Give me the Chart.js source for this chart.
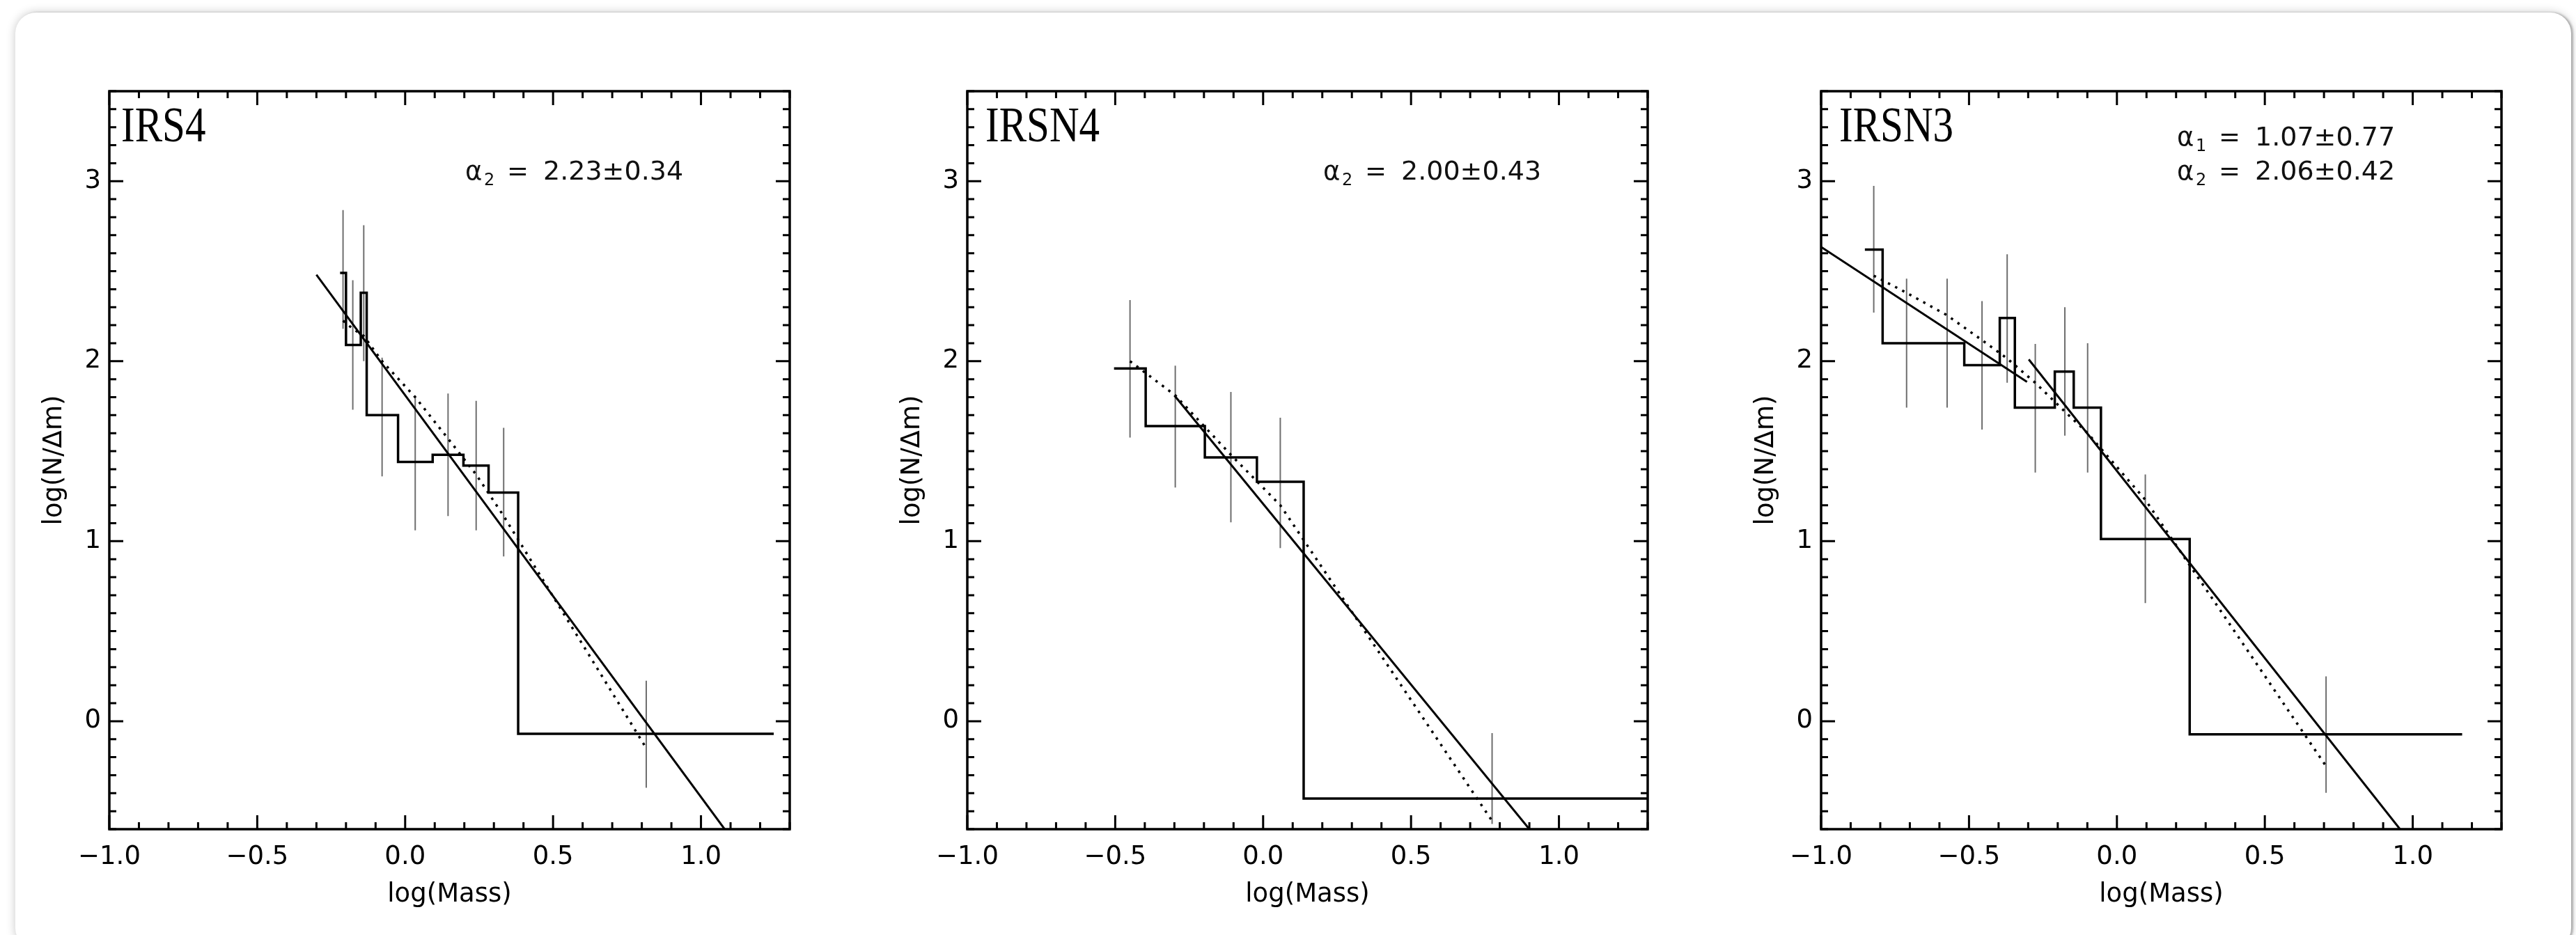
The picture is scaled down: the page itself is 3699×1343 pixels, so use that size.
<!DOCTYPE html>
<html>
<head>
<meta charset="utf-8">
<title>Mass functions IRS4 / IRSN4 / IRSN3</title>
<script src="https://cdn.jsdelivr.net/npm/chart.js@4.4.1/dist/chart.umd.min.js"></script>
<style>
html, body { margin: 0; padding: 0; background: #fff; width: 3699px; height: 1343px; overflow: hidden; }
#card { position: absolute; left: 22px; top: 18px; width: 3670px; height: 1345px; background: #fff;
        border-radius: 30px; box-shadow: 0 0 14px rgba(0,0,0,0.22), 3px 0 3px rgba(0,0,0,0.25); }
canvas { position: absolute; top: 0; }
</style>
</head>
<body>
<div id="card"></div>
<canvas id="p1" width="1174" height="1343" style="left:20px"></canvas>
<canvas id="p2" width="1174" height="1343" style="left:1252px"></canvas>
<canvas id="p3" width="1174" height="1343" style="left:2478px"></canvas>
<script>
// tick labels shared by the three panels
const xTickVals = [-1.0, -0.5, 0.0, 0.5, 1.0];
const yTickVals = [0, 1, 2, 3];

// IRS4
const irs4Edges = [-0.22, -0.20, -0.15, -0.13, -0.024, 0.093, 0.197, 0.282, 0.382, 1.246];
const irs4Vals  = [2.49, 2.09, 2.38, 1.70, 1.44, 1.48, 1.42, 1.27, -0.07];
const irs4ErrX  = [-0.21, -0.177, -0.14, -0.078, 0.034, 0.145, 0.24, 0.333, 0.815];
const irs4ErrLo = [2.18, 1.73, 2.00, 1.36, 1.06, 1.14, 1.06, 0.915, -0.37];
const irs4ErrHi = [2.84, 2.45, 2.755, 2.02, 1.81, 1.82, 1.78, 1.63, 0.225];
const irs4Model = [2.225, 2.18, 2.14, 2.00, 1.80, 1.57, 1.37, 1.14, -0.15];
const irs4FitX  = [-0.30, 1.08];
const irs4FitY  = [2.48, -0.60];

// IRSN4
const irsn4Edges = [-0.504, -0.397, -0.197, -0.021, 0.137, 1.41];
const irsn4Vals  = [1.96, 1.64, 1.465, 1.33, -0.43];
const irsn4ErrX  = [-0.45, -0.297, -0.109, 0.058, 0.774];
const irsn4ErrLo = [1.576, 1.298, 1.105, 0.962, -0.571];
const irsn4ErrHi = [2.34, 1.975, 1.829, 1.686, -0.066];
const irsn4Model = [2.00, 1.81, 1.48, 1.20, -0.554];
const irsn4FitX  = [-0.30, 0.90];
const irsn4FitY  = [1.81, -0.60];

// IRSN3
const irsn3Edges = [-0.852, -0.792, -0.654, -0.516, -0.396, -0.345, -0.210, -0.146, -0.054, 0.246, 1.167];
const irsn3Vals  = [2.62, 2.10, 2.10, 1.978, 2.24, 1.742, 1.942, 1.742, 1.012, -0.073];
const irsn3ErrX  = [-0.822, -0.711, -0.574, -0.456, -0.371, -0.276, -0.176, -0.099, 0.096, 0.707];
const irsn3ErrLo = [2.27, 1.742, 1.742, 1.62, 1.88, 1.381, 1.586, 1.381, 0.656, -0.398];
const irsn3ErrHi = [2.974, 2.459, 2.459, 2.334, 2.594, 2.096, 2.30, 2.10, 1.371, 0.249];
const irsn3Model = [2.475, 2.38, 2.255, 2.117, 2.015, 1.88, 1.72, 1.60, 1.23, -0.25];
const irsn3Fit1X = [-1.0, -0.304];
const irsn3Fit1Y = [2.635, 1.885];
const irsn3Fit2X = [-0.298, 0.957];
const irsn3Fit2Y = [2.01, -0.60];

const SANS = 'DejaVu Sans';

// box, inward ticks on four sides, panel name and slopes
const framePlugin = {
  id: 'frame',
  afterDatasetsDraw(chart, args, opts) {
    const { ctx, chartArea: a, scales: { x, y } } = chart;
    ctx.save();
    ctx.strokeStyle = '#000';
    ctx.lineWidth = 3;
    ctx.beginPath();
    for (let k = -10; k <= 13; k++) {
      const px = x.getPixelForValue(k / 10);
      const len = k % 5 === 0 ? 20 : 10;
      ctx.moveTo(px, a.bottom); ctx.lineTo(px, a.bottom - len);
      ctx.moveTo(px, a.top); ctx.lineTo(px, a.top + len);
    }
    for (let k = -6; k <= 35; k++) {
      const py = y.getPixelForValue(k / 10);
      const len = k % 10 === 0 ? 20 : 10;
      ctx.moveTo(a.left, py); ctx.lineTo(a.left + len, py);
      ctx.moveTo(a.right, py); ctx.lineTo(a.right - len, py);
    }
    ctx.stroke();
    ctx.lineWidth = 3.5;
    ctx.strokeRect(a.left, a.top, a.right - a.left, a.bottom - a.top);

    ctx.fillStyle = '#000';
    ctx.save();
    ctx.translate(a.left + opts.nameOffset, a.top + 72);
    ctx.scale(0.82, 1);
    ctx.font = '72px "Liberation Serif"';
    ctx.fillText(opts.name, 0, 0);
    ctx.restore();

    const n = opts.alphas.length;
    opts.alphas.forEach((al, j) => {
      const x0 = a.left + 511;
      const yb = a.top + 127 - (n - 1 - j) * 49;
      ctx.fillStyle = '#111';
      ctx.font = '37px "' + SANS + '"';
      ctx.fillText('\u03b1', x0, yb);
      ctx.fillText('=', x0 + 60, yb);
      ctx.font = '38px "' + SANS + '"';
      ctx.fillText(al.val, x0 + 112, yb);
      ctx.font = '24px "' + SANS + '"';
      ctx.fillText(al.sub, x0 + 27, yb + 8);
    });
    ctx.restore();
  }
};

function stepPoints(edges, vals) {
  return edges.map((e, i) => ({ x: e, y: vals[Math.min(i, vals.length - 1)] }));
}

function errPoints(xs, lo, hi) {
  const pts = [];
  xs.forEach((v, i) => {
    pts.push({ x: v, y: lo[i] }, { x: v, y: hi[i] }, { x: v, y: null });
  });
  return pts;
}

function pairs(xs, ys) {
  return xs.map((v, i) => ({ x: v, y: ys[i] }));
}

function createChart(id, name, nameOffset, alphas, edges, vals, errX, errLo, errHi, model, fits) {
  const datasets = [
    // horizontal first, then the drop at the next bin edge
    { data: stepPoints(edges, vals), stepped: 'before', borderColor: '#000', borderWidth: 3.5 },
    { data: pairs(errX, model), borderColor: '#000', borderWidth: 3.5, borderDash: [3.5, 8] },
  ];
  fits.forEach(f => {
    datasets.push({ data: pairs(f[0], f[1]), borderColor: '#000', borderWidth: 3 });
  });
  datasets.push({ data: errPoints(errX, errLo, errHi), borderColor: '#6e6e6e', borderWidth: 2, spanGaps: false });
  datasets.forEach(d => { d.showLine = true; d.pointRadius = 0; d.fill = false; });

  const tickFont = { family: SANS, size: 37 };
  new Chart(document.getElementById(id), {
    type: 'scatter',
    data: { datasets },
    options: {
      responsive: false,
      animation: false,
      devicePixelRatio: 1,
      layout: { padding: { top: 131, right: 60, left: 0, bottom: 0 } },
      plugins: {
        legend: { display: false },
        tooltip: { enabled: false },
        frame: { name, nameOffset, alphas }
      },
      scales: {
        x: {
          type: 'linear', min: -1.0, max: 1.3,
          grid: { display: false, drawTicks: false },
          border: { display: false },
          afterBuildTicks: s => { s.ticks = xTickVals.map(v => ({ value: v })); },
          afterFit: s => { s.height = 152; },
          ticks: {
            font: tickFont, color: '#000', padding: 18, maxRotation: 0,
            callback: v => v.toFixed(1).replace('-', '\u2212')
          },
          title: { display: true, text: 'log(Mass)', font: tickFont, color: '#000', padding: { bottom: 35 } }
        },
        y: {
          type: 'linear', min: -0.6, max: 3.5,
          grid: { display: false, drawTicks: false },
          border: { display: false },
          afterBuildTicks: s => { s.ticks = yTickVals.map(v => ({ value: v })); },
          afterFit: s => { s.width = 137; },
          ticks: { font: tickFont, color: '#000', padding: 12, callback: v => String(v) },
          title: { display: true, text: 'log(N/\u0394m)', font: tickFont, color: '#000', padding: { top: 36 } }
        }
      }
    },
    plugins: [framePlugin]
  });
}

createChart('p1', 'IRS4', 17, [{ sub: '2', val: '2.23\u00b10.34' }],
  irs4Edges, irs4Vals, irs4ErrX, irs4ErrLo, irs4ErrHi, irs4Model, [[irs4FitX, irs4FitY]]);
createChart('p2', 'IRSN4', 26, [{ sub: '2', val: '2.00\u00b10.43' }],
  irsn4Edges, irsn4Vals, irsn4ErrX, irsn4ErrLo, irsn4ErrHi, irsn4Model, [[irsn4FitX, irsn4FitY]]);
createChart('p3', 'IRSN3', 26, [{ sub: '1', val: '1.07\u00b10.77' }, { sub: '2', val: '2.06\u00b10.42' }],
  irsn3Edges, irsn3Vals, irsn3ErrX, irsn3ErrLo, irsn3ErrHi, irsn3Model,
  [[irsn3Fit1X, irsn3Fit1Y], [irsn3Fit2X, irsn3Fit2Y]]);
</script>
</body>
</html>
